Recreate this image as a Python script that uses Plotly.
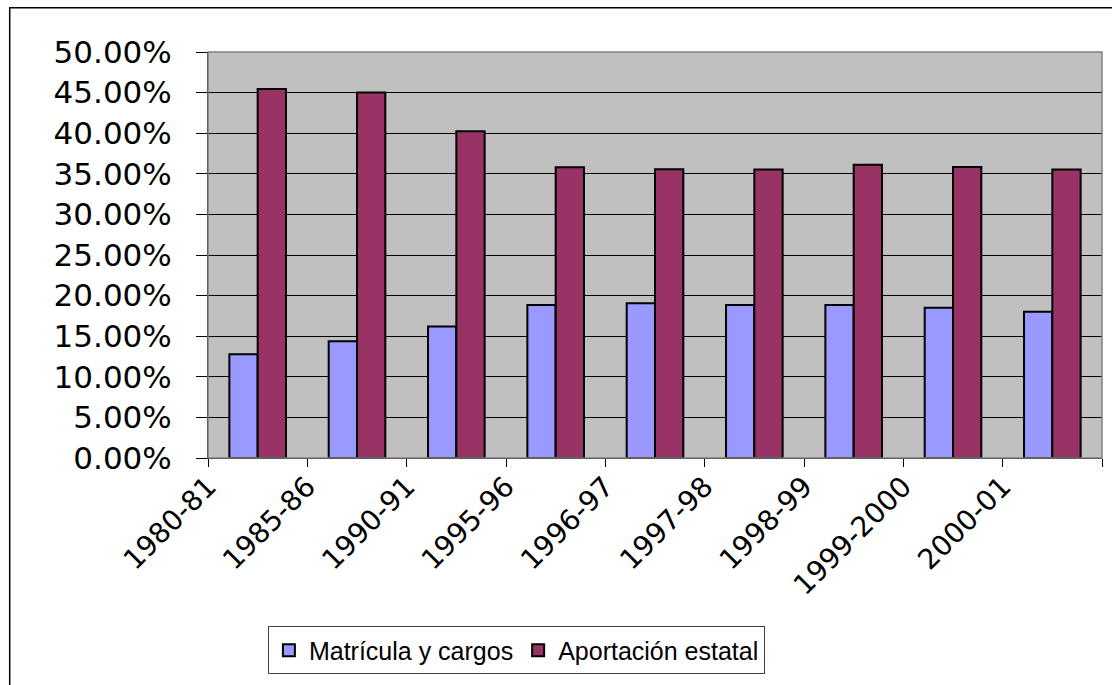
import plotly.graph_objects as go
import numpy as np

categories = ["1980-81", "1985-86", "1990-91", "1995-96", "1996-97",
              "1997-98", "1998-99", "1999-2000", "2000-01"]
matricula = [0.1277, 0.1439, 0.1618, 0.1883, 0.1907, 0.1883, 0.1883, 0.1850, 0.1800]
aportacion = [0.4545, 0.4500, 0.4024, 0.3580, 0.3555, 0.3554, 0.3610, 0.3585, 0.3554]
series_names = ["Matrícula y cargos", "Aportación estatal"]
ytick_vals = [0.0, 0.05, 0.10, 0.15, 0.20, 0.25, 0.30, 0.35, 0.40, 0.45, 0.50]

xpos = np.arange(len(categories))

fig = go.Figure()
fig.add_trace(go.Bar(x=xpos, y=matricula, name=series_names[0],
                     marker=dict(color="#9999FF", line=dict(color="black", width=2))))
fig.add_trace(go.Bar(x=xpos, y=aportacion, name=series_names[1],
                     marker=dict(color="#993366", line=dict(color="black", width=2))))

tickvals = list(xpos - 0.5) + [len(categories) - 0.5]
ticktext = categories + [""]

fig.update_layout(
    width=1112, height=685,
    margin=dict(l=208, r=10, t=52, b=223),
    paper_bgcolor="white",
    plot_bgcolor="#C0C0C0",
    barmode="group",
    bargap=0.43,
    bargroupgap=0,
    showlegend=True,
    legend=dict(orientation="h", x=0.067, y=-0.415, xanchor="left", yanchor="top",
                bgcolor="white", bordercolor="#404040", borderwidth=1,
                font=dict(family="Liberation Sans, Arial", size=25, color="black"),
                itemsizing="constant", itemwidth=30, tracegroupgap=0),
    xaxis=dict(range=[-0.5, len(categories) - 0.5], tickmode="array",
               tickvals=tickvals, ticktext=ticktext, tickangle=-45,
               ticks="outside", ticklen=8, tickcolor="black", tickwidth=1,
               showline=True, linecolor="black", linewidth=1,
               showgrid=False, zeroline=False, ticklabelstandoff=-8,
               tickfont=dict(family="DejaVu Sans", size=28, color="black")),
    yaxis=dict(range=[0, 0.5], tickmode="array", tickvals=ytick_vals,
               tickformat=".2%", ticks="outside", ticklen=11, tickcolor="black",
               tickwidth=1, showline=True, linecolor="black", linewidth=1,
               showgrid=True, gridcolor="black", gridwidth=1, zeroline=False,
               ticklabelstandoff=18,
               tickfont=dict(family="DejaVu Sans", size=31, color="black")),
    shapes=[
        dict(type="rect", xref="paper", yref="paper", x0=0, x1=1, y0=0, y1=1,
             line=dict(color="#808080", width=1.5), fillcolor="rgba(0,0,0,0)", layer="above"),
        dict(type="rect", xref="paper", yref="paper", x0=-0.2218, x1=1.2, y0=-0.7, y1=1.109,
             line=dict(color="black", width=1.5), fillcolor="rgba(0,0,0,0)", layer="above"),
    ],
)

fig.write_html("out.html",
               config={"displayModeBar": False},
               post_script="document.body.style.margin='0';"
                           "document.body.style.overflow='hidden';"
                           "document.documentElement.style.overflow='hidden';")
